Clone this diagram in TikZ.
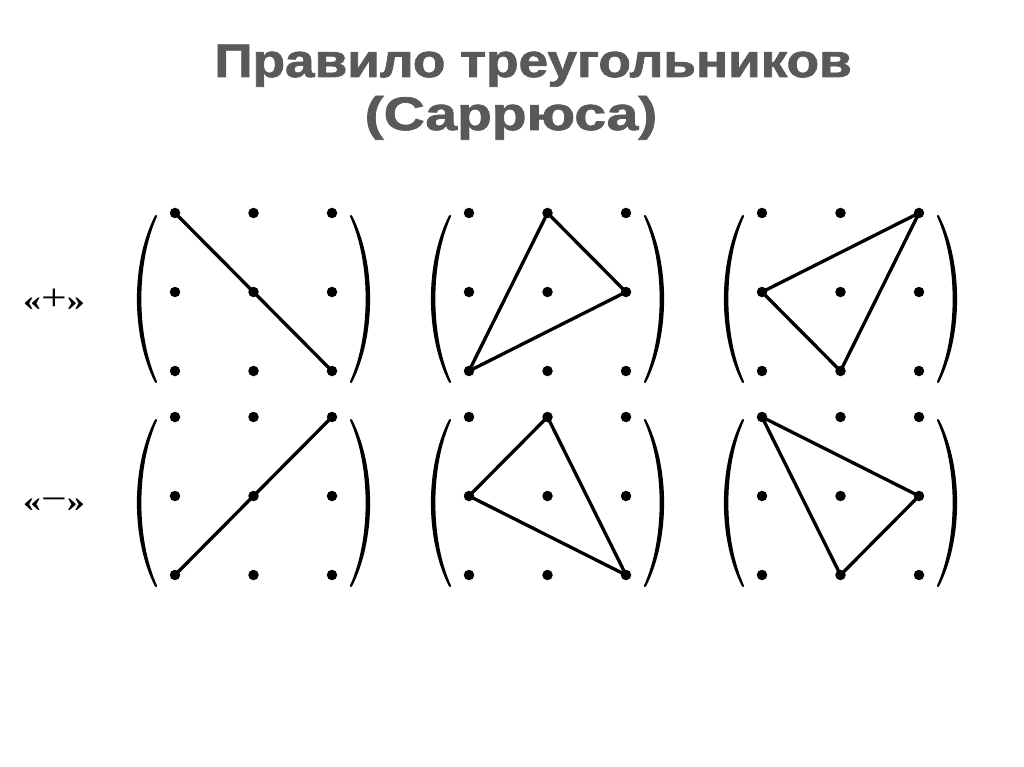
\documentclass[tikz,border=0pt]{standalone}
\usepackage{fontspec}
\setmainfont{Liberation Sans}
\newfontfamily\ttlfont[FakeBold=1.5]{Liberation Sans Bold}
\newfontfamily\lblfont{Liberation Serif}
\definecolor{titlegray}{HTML}{595959}
\begin{document}
\begin{tikzpicture}[x=1pt,y=-1pt]
\tikzset{
  dot/.style={circle,fill=black,inner sep=0pt,minimum size=10.5pt},
  seg/.style={line width=3.3pt,line join=round,line cap=round},
  paren/.style={fill=black,draw=black,line width=2.2pt,line join=round,line cap=round},
  ttl/.style={font=\fontsize{47}{56}\ttlfont,text=titlegray,anchor=base,inner sep=0pt},
  lbl/.style={font=\fontsize{30}{34}\lblfont,anchor=center,inner sep=0pt}
}
\useasboundingbox (0,0) rectangle (1024,767);
\fill[white] (0,0) rectangle (1024,767);
\node[ttl] (t1) at (533,77) {\scalebox{1.13}[1]{Правило треугольников}};
\node[ttl] (t2) at (511,130) {\scalebox{1.21}[1]{(Саррюса)}};
\node[lbl] (plus) at (54,300) {\scalebox{1.2}[1]{\textbf{«}\raisebox{-0.5pt}{\fontsize{38}{40}\selectfont+}\textbf{»}}};
\node[lbl] (minus) at (54,505) {\scalebox{1.2}[1]{\textbf{«}\raisebox{-0.5pt}{\fontsize{38}{40}\selectfont−}\textbf{»}}};
\foreach \n/\ox/\oy in {A/175/213,B/469/213,C/762/213,D/175/417,E/469/417,F/762/417}{
  \foreach \i in {0,1,2}{\foreach \j in {0,1,2}{
    \node[dot] (\n\i\j) at ({\ox+78.5*\j},{\oy+79*\i}) {};
  }}
  \path[paren] ({\ox-19},{\oy+3}) .. controls ({\ox-43},{\oy+50}) and ({\ox-43},{\oy+122}) .. ({\ox-19},{\oy+169})
        .. controls ({\ox-40},{\oy+122}) and ({\ox-40},{\oy+50}) .. cycle;
  \path[paren] ({\ox+176},{\oy+3}) .. controls ({\ox+200},{\oy+50}) and ({\ox+200},{\oy+122}) .. ({\ox+176},{\oy+169})
        .. controls ({\ox+197},{\oy+122}) and ({\ox+197},{\oy+50}) .. cycle;
}
\draw[seg] (A00.center) -- (A11.center) -- (A22.center);
\draw[seg] (B01.center) -- (B12.center) -- (B20.center) -- cycle;
\draw[seg] (C02.center) -- (C10.center) -- (C21.center) -- cycle;
\draw[seg] (D20.center) -- (D11.center) -- (D02.center);
\draw[seg] (E01.center) -- (E10.center) -- (E22.center) -- cycle;
\draw[seg] (F00.center) -- (F12.center) -- (F21.center) -- cycle;
\end{tikzpicture}
\end{document}
